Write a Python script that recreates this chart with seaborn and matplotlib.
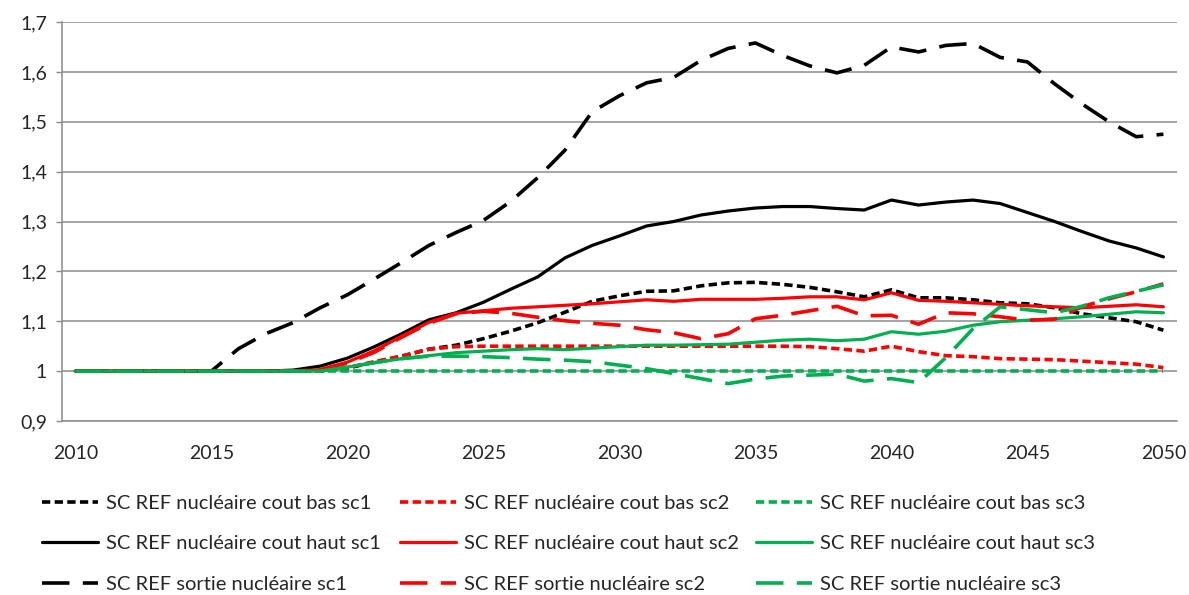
import numpy as np
import pandas as pd
import matplotlib
matplotlib.use("Agg")
import matplotlib.pyplot as plt
import seaborn as sns

# --- data ---
years = list(range(2010, 2051))

bas_sc1 = [1.0] * 10 + [1.006, 1.018, 1.030, 1.044, 1.052, 1.065, 1.080, 1.097, 1.118, 1.140,
                        1.151, 1.160, 1.161, 1.171, 1.177, 1.178, 1.174, 1.168, 1.159, 1.149,
                        1.163, 1.147, 1.147, 1.143, 1.137, 1.135, 1.127, 1.115, 1.107, 1.099, 1.082]
bas_sc2 = [1.0] * 10 + [1.007, 1.019, 1.030, 1.044, 1.049, 1.050] + [1.050] * 10 + \
          [1.050, 1.049, 1.045, 1.040,
           1.050, 1.039, 1.031, 1.029, 1.025, 1.024, 1.023, 1.020, 1.017, 1.014, 1.007]
bas_sc3 = [1.0] * 41

haut_sc1 = [1.0] * 8 + [1.002, 1.010, 1.026, 1.049, 1.075, 1.103, 1.117, 1.138, 1.164, 1.189,
                        1.227, 1.252, 1.271, 1.291, 1.300, 1.313, 1.321, 1.327, 1.330, 1.330,
                        1.326, 1.323, 1.343, 1.333, 1.339, 1.343, 1.336, 1.318, 1.300, 1.280,
                        1.261, 1.247, 1.229]
haut_sc2 = [1.0] * 9 + [1.003, 1.018, 1.041, 1.070, 1.098, 1.116, 1.121, 1.126, 1.129, 1.132,
                        1.135, 1.139, 1.143, 1.140, 1.144, 1.144, 1.144, 1.146, 1.149, 1.149,
                        1.143, 1.157, 1.142, 1.140, 1.137, 1.134, 1.131, 1.129, 1.127, 1.130,
                        1.133, 1.129]
haut_sc3 = [1.0] * 10 + [1.008, 1.017, 1.025, 1.031, 1.037, 1.040, 1.043, 1.045, 1.043, 1.046,
                         1.049, 1.052, 1.052, 1.053, 1.054, 1.058, 1.062, 1.064, 1.061, 1.064,
                         1.079, 1.074, 1.080, 1.092, 1.099, 1.102, 1.105, 1.109, 1.114, 1.119, 1.117]

sortie_sc1 = [1.0] * 6 + [1.045, 1.075, 1.097, 1.127, 1.153, 1.185, 1.218, 1.252, 1.278, 1.302,
                          1.340, 1.388, 1.443, 1.520, 1.552, 1.578, 1.589, 1.623, 1.647, 1.658,
                          1.633, 1.612, 1.598, 1.613, 1.650, 1.640, 1.653, 1.657, 1.629, 1.620,
                          1.576, 1.536, 1.500, 1.470, 1.475]
sortie_sc2 = [1.0] * 9 + [1.003, 1.016, 1.038, 1.068, 1.096, 1.115, 1.120, 1.116, 1.108, 1.101,
                          1.096, 1.092, 1.083, 1.077, 1.065, 1.075, 1.105, 1.112, 1.121, 1.130,
                          1.111, 1.112, 1.094, 1.117, 1.115, 1.109, 1.102, 1.104, 1.129, 1.145,
                          1.159, 1.175]
sortie_sc3 = [1.0] * 10 + [1.008, 1.017, 1.025, 1.030, 1.030, 1.029, 1.027, 1.024, 1.022, 1.019,
                           1.012, 1.005, 0.995, 0.985, 0.975, 0.984, 0.990, 0.992, 0.994, 0.980,
                           0.985, 0.977, 1.027, 1.085, 1.129, 1.123, 1.117, 1.130, 1.147, 1.160, 1.173]

y_ticks = [0.9, 1.0, 1.1, 1.2, 1.3, 1.4, 1.5, 1.6, 1.7]
y_tick_labels = ["0,9", "1", "1,1", "1,2", "1,3", "1,4", "1,5", "1,6", "1,7"]
x_ticks = [2010, 2015, 2020, 2025, 2030, 2035, 2040, 2045, 2050]

# series in Excel drawing order: (label, values, colour, style)
series = [
    ("SC REF nucléaire cout bas sc1", bas_sc1, "black", "dot"),
    ("SC REF nucléaire cout bas sc2", bas_sc2, "#FF0000", "dot"),
    ("SC REF nucléaire cout bas sc3", bas_sc3, "#00B050", "dot"),
    ("SC REF nucléaire cout haut sc1", haut_sc1, "black", "solid"),
    ("SC REF nucléaire cout haut sc2", haut_sc2, "#FF0000", "solid"),
    ("SC REF nucléaire cout haut sc3", haut_sc3, "#00B050", "solid"),
    ("SC REF sortie nucléaire sc1", sortie_sc1, "black", "dash"),
    ("SC REF sortie nucléaire sc2", sortie_sc2, "#FF0000", "dash"),
    ("SC REF sortie nucléaire sc3", sortie_sc3, "#00B050", "dash"),
]
styles = {
    "dot": dict(lw=2.6, ls=(0, (2.3, 1.2))),
    "solid": dict(lw=2.3, ls="-"),
    "dash": dict(lw=2.6, ls=(0, (7.6, 3.7))),
}

sns.set_style("white")
plt.rcParams["font.family"] = ["Lato", "DejaVu Sans"]

fig = plt.figure(figsize=(11.89, 5.95), dpi=100)
ax = fig.add_axes([61.7 / 1189, 1 - 421 / 595, (1177 - 61.7) / 1189, (421 - 22) / 595])

handles = {}
for label, vals, color, st in series:
    df = pd.DataFrame({"year": years, "value": vals})
    sns.lineplot(data=df, x="year", y="value", ax=ax, color=color,
                 linewidth=styles[st]["lw"], linestyle=styles[st]["ls"],
                 label=label, legend=False)
    handles[label] = ax.get_lines()[-1]

grid_c = "#8c8c8c"
ax.set_xlim(2009.5, 2050.5)
ax.set_ylim(0.9, 1.7)
ax.set_yticks(y_ticks)
ax.set_yticklabels(y_tick_labels)
ax.set_xticks(x_ticks)
ax.set_xticklabels([str(y) for y in x_ticks])
ax.set_xticks(np.arange(2009.5, 2051, 5), minor=True)
ax.tick_params(axis="x", which="major", length=0, pad=17, labelsize=14)
ax.tick_params(axis="x", which="minor", length=4.5, width=1, color=grid_c, direction="out")
ax.tick_params(axis="y", which="major", length=4.5, width=1, color=grid_c, pad=6,
               labelsize=14, direction="out", left=True)
ax.yaxis.grid(True, color=grid_c, lw=1.1)
ax.xaxis.grid(False)
ax.set_axisbelow(True)
for s in ["top", "right"]:
    ax.spines[s].set_visible(False)
for s in ["left", "bottom"]:
    ax.spines[s].set_color(grid_c)
    ax.spines[s].set_linewidth(1.1)
ax.set_xlabel("")
ax.set_ylabel("")

# legend: three columns, one legend per column
col_x = [42, 400, 756]
for i, x0 in enumerate(col_x):
    labs = [series[i][0], series[i + 3][0], series[i + 6][0]]
    fig.legend([handles[l] for l in labs], labs, loc="upper left",
               bbox_to_anchor=(x0 / 1189, 1 - 495 / 595), frameon=False,
               fontsize=14.5, handlelength=2.8, handletextpad=0.4,
               labelspacing=1.15, borderpad=0, borderaxespad=0)

fig.savefig("out.png", dpi=100)
